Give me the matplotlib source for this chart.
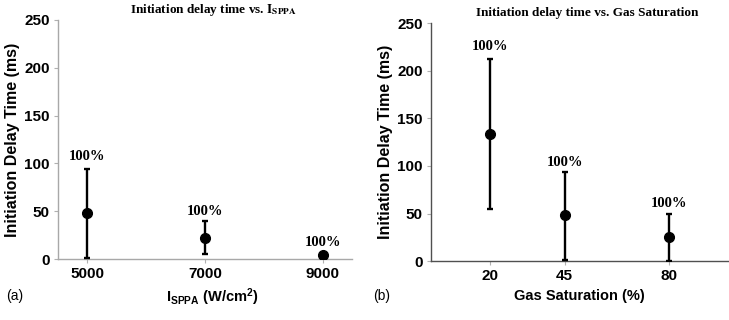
import matplotlib
matplotlib.use("Agg")
import matplotlib.pyplot as plt

plt.rcParams["font.family"] = ["Liberation Sans", "DejaVu Sans"]
plt.rcParams["mathtext.fontset"] = "custom"
plt.rcParams["mathtext.rm"] = "Liberation Sans:bold"
plt.rcParams["mathtext.bf"] = "Liberation Sans:bold"
plt.rcParams["mathtext.it"] = "Liberation Sans:bold"

# ── panel (a): intensity ────────────────────────────────────────────
isppa = [5000, 7000, 9000]
isppa_mean = [48, 22, 4]
isppa_low = [1, 5, 4]
isppa_high = [94, 40, 4]
isppa_label_y = [107, 50, 17]

# ── panel (b): gas saturation ───────────────────────────────────────
gas = [20, 45, 80]
gas_mean = [133, 48, 25]
gas_low = [55, 1, 0]
gas_high = [212, 94, 50]
gas_label_y = [225, 104, 61]

pct_text = "100%"

fig = plt.figure(figsize=(7.29, 3.2), dpi=100)
ax_a = fig.add_axes([0.0796, 0.1906, 0.4033, 0.7469])
ax_b = fig.add_axes([0.5912, 0.184, 0.4074, 0.744])


def draw_panel(ax, x, mean, low, high, label_y, xlim, title, spine_color):
    yerr = [[m - l for m, l in zip(mean, low)], [h - m for m, h in zip(mean, high)]]
    ax.errorbar(x, mean, yerr=yerr, fmt="o", color="black", ms=7,
                elinewidth=1.7, capsize=2, capthick=1.7, zorder=3)
    for xi, yi in zip(x, label_y):
        ax.text(xi, yi, pct_text, ha="center", va="center", fontsize=10.5,
                fontweight="bold", family="Liberation Serif")
    ax.set_xlim(*xlim)
    ax.set_ylim(0, 250)
    ax.set_xticks(x)
    ax.set_yticks([0, 50, 100, 150, 200, 250])
    for s in ("top", "right"):
        ax.spines[s].set_visible(False)
    for s in ("left", "bottom"):
        ax.spines[s].set_color(spine_color)
        ax.spines[s].set_linewidth(1.0)
    ax.tick_params(direction="out", length=3, color="#b0b0b0", labelsize=11, pad=3)
    for lab in ax.get_xticklabels() + ax.get_yticklabels():
        lab.set_fontweight("bold")
    ax.set_ylabel("Initiation Delay Time (ms)", fontsize=11.5, fontweight="bold", labelpad=3)
    ax.set_title(title, fontsize=9.5, fontweight="bold", family="Liberation Serif",
                 math_fontfamily="stix", pad=5, x=0.527)


draw_panel(ax_a, isppa, isppa_mean, isppa_low, isppa_high, isppa_label_y,
           (4500, 9500), r"Initiation delay time vs. $\mathbf{I_{SPPA}}$", "#a8a8a8")
draw_panel(ax_b, gas, gas_mean, gas_low, gas_high, gas_label_y,
           (0, 100), "Initiation delay time vs. Gas Saturation", "#505050")

ax_a.set_xlabel(r"$\mathrm{I_{SPPA}}$ (W/cm$^2$)", fontsize=10.5, fontweight="bold", labelpad=4)
ax_a.xaxis.label.set_x(0.525)
ax_b.set_xlabel("Gas Saturation (%)", fontsize=10.5, fontweight="bold", labelpad=4)

fig.text(0.008, 0.075, "(a)", fontsize=10, va="center")
fig.text(0.512, 0.075, "(b)", fontsize=10, va="center")

fig.savefig("out.png", dpi=100)
